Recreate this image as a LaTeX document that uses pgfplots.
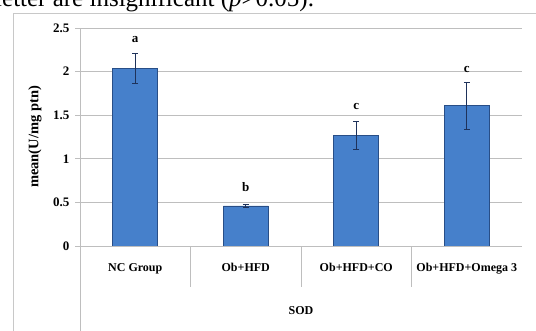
\documentclass[border=0pt]{standalone}
\usepackage{pgfplots}
\pgfplotsset{compat=1.18}
\usepackage{fontspec}
\setmainfont{Liberation Serif}
\definecolor{barfill}{RGB}{70,128,203}
\definecolor{barline}{RGB}{40,78,135}
\definecolor{errc}{RGB}{30,50,90}
\definecolor{gridc}{RGB}{190,190,190}
\definecolor{framec}{RGB}{200,200,200}
\begin{document}
\begin{tikzpicture}[x=1pt,y=1pt]
\useasboundingbox (0,0) rectangle (536,330);
% page text above the chart (cut off)
\node[anchor=base west,inner sep=0pt,font=\fontsize{25}{28}\selectfont] at (-5,323.5) {letter are insignificant (\textit{p}>0.05).};
% chart frame
\draw[framec,line width=0.8pt] (13,-5) -- (13,317) -- (540,317);
\begin{axis}[
  at={(80pt,84pt)}, anchor=south west,
  scale only axis, width=442pt, height=218pt,
  xmin=-0.5, xmax=3.5, ymin=0, ymax=2.5,
  axis x line=bottom, axis y line=left,
  axis line style={-,draw=none},
  ytick={0,0.5,1,1.5,2,2.5},
  yticklabels={0,0.5,1,1.5,2,2.5},
  ymajorgrids, grid style={gridc,line width=0.7pt},
  ytick style={draw=none},
  xtick={0,1,2,3}, xtick style={draw=none},
  xticklabels={NC Group,Ob+HFD,Ob+HFD+CO,Ob+HFD+Omega 3},
  xticklabel style={font=\fontsize{12}{14}\selectfont\bfseries, yshift=-12pt},
  yticklabel style={font=\fontsize{13}{15}\selectfont\bfseries, xshift=-5pt},
  every axis y label/.style={at={([xshift=-45pt]rel axis cs:0,0.5)}, rotate=90, anchor=center, font=\fontsize{14.5}{16}\selectfont\bfseries},
  ylabel={mean(U/mg ptn)},
  clip=false,
]
\addplot[ybar, bar width=45pt, draw=barline, line width=0.6pt, fill=barfill,
  error bars/.cd, y dir=both, y explicit,
  error bar style={errc,line width=0.8pt},
  error mark options={errc,line width=0.8pt,mark size=3pt,rotate=90}]
  coordinates {
  (0,2.04) +- (0,0.17)
  (1,0.46) +- (0,0.02)
  (2,1.27) +- (0,0.16)
  (3,1.61) +- (0,0.27)
  };
% significance letters
\node[font=\fontsize{13}{15}\selectfont\bfseries] at (axis cs:0,2.37) {a};
\node[font=\fontsize{13}{15}\selectfont\bfseries] at (axis cs:1,0.68) {b};
\node[font=\fontsize{13}{15}\selectfont\bfseries] at (axis cs:2,1.60) {c};
\node[font=\fontsize{13}{15}\selectfont\bfseries] at (axis cs:3,2.02) {c};
% category separators and axis lines
\draw[gridc,line width=0.7pt] (axis cs:0.5,0) -- ([yshift=-41pt]axis cs:0.5,0);
\draw[gridc,line width=0.7pt] (axis cs:1.5,0) -- ([yshift=-41pt]axis cs:1.5,0);
\draw[gridc,line width=0.7pt] (axis cs:2.5,0) -- ([yshift=-41pt]axis cs:2.5,0);
\draw[gridc,line width=0.8pt] (rel axis cs:0,0) -- (rel axis cs:1,0);
\draw[gridc,line width=0.8pt] ([yshift=-90pt]rel axis cs:0,0) -- (rel axis cs:0,1);
\draw[gridc,line width=0.7pt] (axis cs:-0.5,0) -- ([xshift=-5pt]axis cs:-0.5,0);
\draw[gridc,line width=0.7pt] (axis cs:-0.5,0.5) -- ([xshift=-5pt]axis cs:-0.5,0.5);
\draw[gridc,line width=0.7pt] (axis cs:-0.5,1) -- ([xshift=-5pt]axis cs:-0.5,1);
\draw[gridc,line width=0.7pt] (axis cs:-0.5,1.5) -- ([xshift=-5pt]axis cs:-0.5,1.5);
\draw[gridc,line width=0.7pt] (axis cs:-0.5,2) -- ([xshift=-5pt]axis cs:-0.5,2);
\draw[gridc,line width=0.7pt] (axis cs:-0.5,2.5) -- ([xshift=-5pt]axis cs:-0.5,2.5);
\node[font=\fontsize{12}{14}\selectfont\bfseries] at ([yshift=-65pt]axis cs:1.5,0) {SOD};
\end{axis}
\end{tikzpicture}
\end{document}
